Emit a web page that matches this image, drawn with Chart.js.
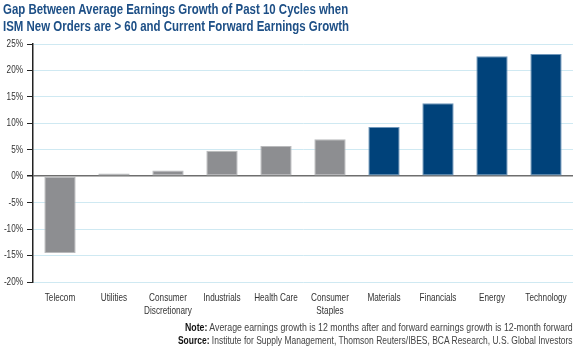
<!DOCTYPE html>
<html><head><meta charset="utf-8">
<script src="https://cdn.jsdelivr.net/npm/chart.js@4"></script>
<style>
html,body{margin:0;padding:0;background:#fff;}
#wrap{position:relative;width:580px;height:349px;overflow:hidden;font-family:"Liberation Sans",Arial,sans-serif;}
.tl{position:absolute;left:3px;font-weight:bold;font-size:14.5px;line-height:14px;color:#1d4f86;white-space:nowrap;transform-origin:0 0;}
.nl{position:absolute;right:7px;font-size:10px;line-height:10px;color:#444;white-space:nowrap;transform-origin:100% 0;}
.nl b{color:#111;}
canvas{position:absolute;left:0;top:0;}
</style></head>
<body><div id="wrap">
<canvas id="c" width="580" height="349"></canvas>
<div class="tl" id="t1" style="top:2px">Gap Between Average Earnings Growth of Past 10 Cycles when</div>
<div class="tl" id="t2" style="top:19px">ISM New Orders are &gt; 60 and Current Forward Earnings Growth</div>
<div class="nl" id="n1" style="top:323px"><b>Note:</b> Average earnings growth is 12 months after and forward earnings growth is 12-month forward</div>
<div class="nl" id="n2" style="top:336px"><b>Source:</b> Institute for Supply Management, Thomson Reuters/IBES, BCA Research, U.S. Global Investors</div>
</div>
<script>
const categories = ["Telecom","Utilities",["Consumer","Discretionary"],"Industrials","Health Care",["Consumer","Staples"],"Materials","Financials","Energy","Technology"];
const gaps = [-14.5,0.5,1.1,4.8,5.7,7.0,9.3,13.8,22.7,23.1];
const barColors = ["#8d8e91","#8d8e91","#8d8e91","#8d8e91","#8d8e91","#8d8e91","#00427a","#00427a","#00427a","#00427a"];
const edgeColors = ["#b9babc","#b9babc","#b9babc","#b9babc","#b9babc","#b9babc","#6f97bb","#6f97bb","#6f97bb","#6f97bb"];
const yTicks = [-20,-15,-10,-5,0,5,10,15,20,25];
const FONT = '"Liberation Sans",Arial,sans-serif';

// condense HTML text lines to the reference widths
function fit(id, w){ const el=document.getElementById(id); const s=w/el.offsetWidth; el.style.transform='scaleX('+s+')'; }
fit('t1',345); fit('t2',346); fit('n1',388); fit('n2',395);

// condensed canvas text
const condense = {
  id: 'condense',
  beforeDraw(chart){
    const ctx = chart.ctx;
    if (ctx._condensed) return;
    const orig = ctx.fillText.bind(ctx);
    ctx.fillText = function(t, x, y, mw){
      ctx.save(); ctx.translate(x, y); ctx.scale(0.78, 1);
      if (mw !== undefined) orig(t, 0, 0, mw / 0.78); else orig(t, 0, 0);
      ctx.restore();
    };
    ctx._condensed = true;
  }
};

new Chart(document.getElementById('c'), {
  type: 'bar',
  data: { labels: categories, datasets: [{ data: gaps, backgroundColor: barColors, borderColor: edgeColors, borderWidth: 1, borderSkipped: false, categoryPercentage: 1, barPercentage: 0.58 }] },
  plugins: [condense],
  options: {
    responsive: false, animation: false,
    layout: { padding: { top: 44, left: 0, right: 7, bottom: 27 } },
    plugins: { legend: { display: false }, tooltip: { enabled: false } },
    scales: {
      x: {
        grid: { display: false },
        border: { display: false },
        ticks: { color: '#333', font: { family: FONT, size: 10.5 }, padding: 2, maxRotation: 0, autoSkip: false },
        afterFit: s => { s.height = 40; }
      },
      y: {
        min: -20, max: 25,
        afterBuildTicks: s => { s.ticks = yTicks.map(v => ({ value: v })); },
        grid: {
          color: c => c.tick && c.tick.value === 0 ? '#6e6e6e' : '#cfe9f2',
          lineWidth: c => c.tick && c.tick.value === 0 ? 1.5 : 1,
          tickColor: '#222', tickLength: 6
        },
        border: { display: true, color: '#222', width: 1.5 },
        ticks: { color: '#333', font: { family: FONT, size: 10.5 }, padding: 4, callback: v => v + '%' },
        afterFit: s => { s.width = 33; }
      }
    }
  }
});
</script>
</body></html>
